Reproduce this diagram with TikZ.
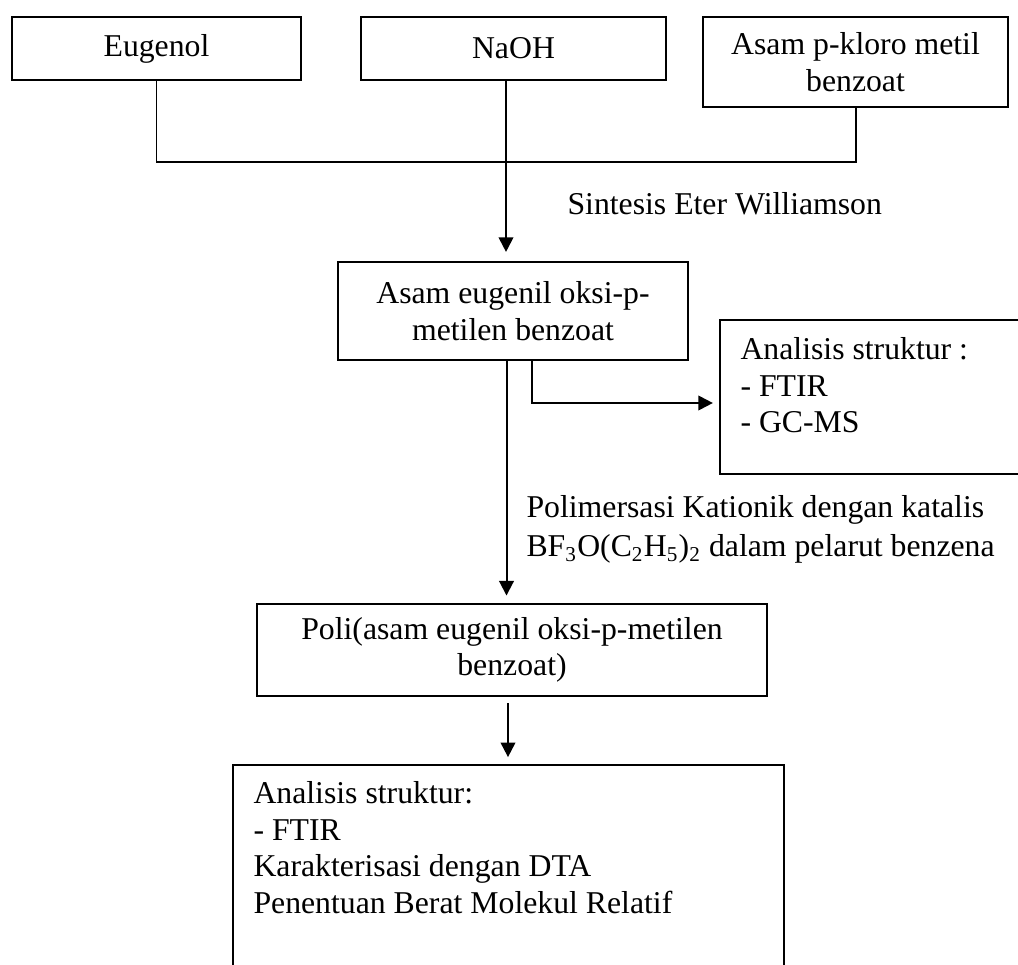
\documentclass[tikz,border=0pt]{standalone}
\usepackage{fontspec}
\setmainfont{Liberation Serif}
\usetikzlibrary{arrows.meta}
\newcommand\fsz{\fontsize{12}{13.8}\selectfont}
\begin{document}
\begin{tikzpicture}[x=0.378pt,y=-0.378pt,
  box/.style={draw,line width=0.8pt,inner sep=0pt,align=center,font=\fsz},
  txt/.style={inner sep=0pt,font=\fsz,align=left},
  conn/.style={line width=0.75pt},
  arr/.style={conn,-{Triangle[length=5.5pt,width=5.5pt]}}]
\useasboundingbox (0,0) rectangle (1018,965);
\clip (0,0) rectangle (1018,965);
% top row
\node[box,minimum width=289*0.378pt,minimum height=63*0.378pt] (eug) at (156.5,48.5) {Eugenol};
\node[box,minimum width=305*0.378pt,minimum height=63*0.378pt] (naoh) at (513.5,48.5) {NaOH};
\node[box,minimum width=305*0.378pt,minimum height=90*0.378pt] (asam) at (855.5,62) {Asam p-kloro metil\\benzoat};
\coordinate (j) at (506,162);
\draw[conn] (eug.south) |- (j) -| (asam.south);
% first product
\node[box,minimum width=350*0.378pt,minimum height=98*0.378pt] (ae) at (513,311) {Asam eugenil oksi-p-\\metilen benzoat};
\draw[arr,shorten >=3.4pt] (naoh.south -| j) -- (ae.north -| j);
\node[txt,anchor=base west] (sint) at (567,215) {Sintesis Eter Williamson};
% analysis box 1
\node[box,anchor=north west,minimum width=330*0.378pt,minimum height=154*0.378pt] (an1) at (719,319) {};
\node[txt,anchor=north west] (an1t) at (740,337) {Analisis struktur :\\- FTIR\\- GC-MS};
\coordinate (br) at (532,403);
\draw[arr,shorten >=2.3pt] (ae.south -| br) |- (an1.west |- br);
% polymer
\node[box,minimum width=510*0.378pt,minimum height=92*0.378pt] (poli) at (512,650) {Poli(asam eugenil oksi-p-metilen\\benzoat)};
\coordinate (m) at (506.5,0);
\draw[arr,shorten >=2.8pt] (ae.south -| m) -- (poli.north -| m);
\node[txt,anchor=north west] (pk) at (526,495) {Polimersasi Kationik dengan katalis\\[1pt]BF\textsubscript{3}O(C\textsubscript{2}H\textsubscript{5})\textsubscript{2} dalam pelarut benzena};
% bottom box
\node[box,anchor=north west,minimum width=551*0.378pt,minimum height=260*0.378pt] (bot) at (232,764) {};
\node[txt,anchor=north west] (bott) at (253,781) {Analisis struktur:\\- FTIR\\Karakterisasi dengan DTA\\Penentuan Berat Molekul Relatif};
\coordinate (m2) at (508,0);
\draw[arr,shorten <=2.3pt,shorten >=2.6pt] (poli.south -| m2) -- (bot.north -| m2);
\end{tikzpicture}
\end{document}
